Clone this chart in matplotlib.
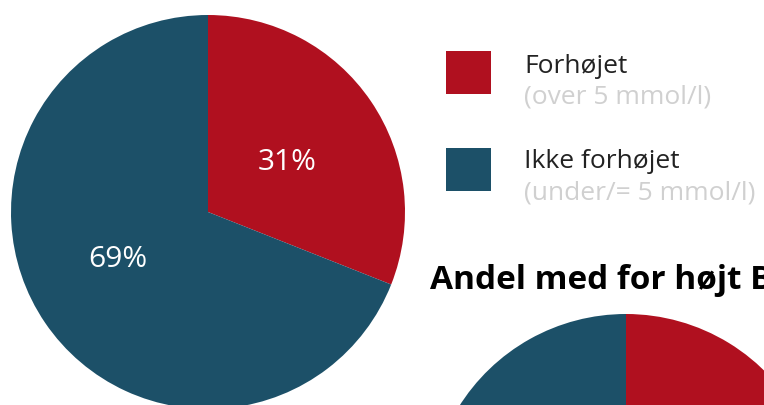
import matplotlib
matplotlib.use("Agg")
import matplotlib.pyplot as plt
from matplotlib.patches import Rectangle

# data
categories = ["Forhøjet", "Ikke forhøjet"]
subtitles = ["(over 5 mmol/l)", "(under/= 5 mmol/l)"]
main_values = [31, 69]
second_values = [35, 65]
second_title = "Andel med for højt BMI"

RED = "#b0101f"
BLUE = "#1c5068"
colors = [RED, BLUE]

W, H = 764, 405
plt.rcParams["font.family"] = ["Open Sans", "DejaVu Sans"]

fig = plt.figure(figsize=(W / 100, H / 100), dpi=100)
ax = fig.add_axes([0, 0, 1, 1])


def py(y):
    # pixel row (top-down) -> data y
    return H - y


_, _, pct_texts = ax.pie(main_values, colors=colors, startangle=90,
                         counterclock=False, center=(208, py(212)), radius=197,
                         autopct="%d%%", pctdistance=0.5,
                         textprops=dict(color="white", fontsize=21.5),
                         wedgeprops=dict(linewidth=0))
# nudge the percentage labels to where the original sits them
label_pos = [(287, 170), (118, 267)]
for t, (x, y) in zip(pct_texts, label_pos):
    t.set_position((x, py(y)))
    t.set_va("baseline")

ax.pie(second_values, colors=colors, startangle=90, counterclock=False,
       center=(626, py(511)), radius=197,
       wedgeprops=dict(linewidth=0))

# legend
box_y = [51, 148]
text_y = [73, 168]
sub_y = [104, 199]
for i in range(2):
    ax.add_patch(Rectangle((446, py(box_y[i] + 43)), 45, 43,
                           facecolor=colors[i], edgecolor="none"))
    ax.text(524, py(text_y[i]), categories[i], fontsize=19, color="#222222",
            va="baseline", ha="left")
    ax.text(524, py(sub_y[i]), subtitles[i], fontsize=19, color="#d0d0d0",
            va="baseline", ha="left")

ax.text(430, py(289), second_title, fontsize=24, fontweight="bold",
        color="black", va="baseline", ha="left")

ax.set_xlim(0, W)
ax.set_ylim(0, H)
ax.set_aspect("auto")
ax.axis("off")

fig.savefig("out.png", dpi=100)
